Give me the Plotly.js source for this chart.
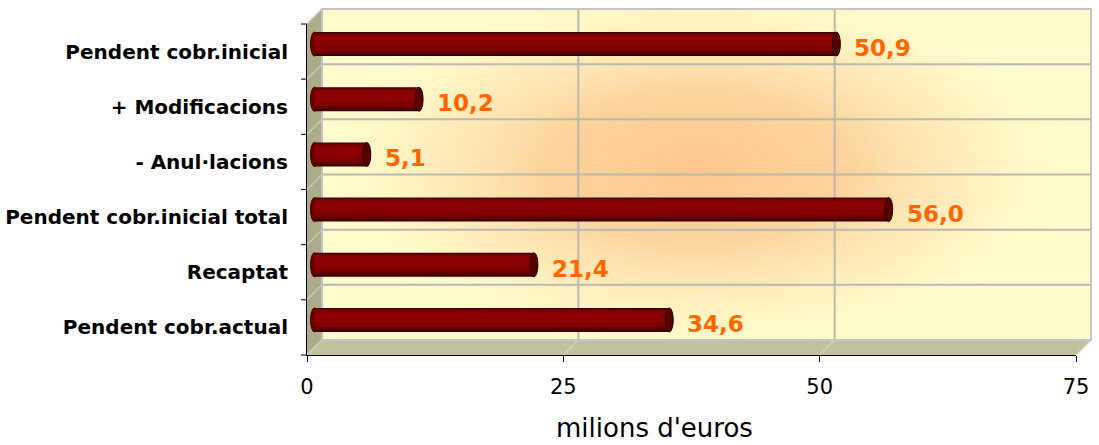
<!DOCTYPE html>
<html>
<head>
<meta charset="utf-8">
<script src="https://cdn.plot.ly/plotly-3.0.1.min.js"></script>
<style>html,body{margin:0;padding:0;background:#fff}#chart{width:1099px;height:445px}</style>
</head>
<body>
<div id="chart"></div>
<script>
// ---- data ----
const categories = ["Pendent cobr.inicial", "+ Modificacions", "- Anul·lacions", "Pendent cobr.inicial total", "Recaptat", "Pendent cobr.actual"];
const values = [50.9, 10.2, 5.1, 56.0, 21.4, 34.6];
const valueLabels = ["50,9", "10,2", "5,1", "56,0", "21,4", "34,6"];
const xTickVals = [0, 25, 50, 75];
const xTickText = ["0", "25", "50", "75"];
const axisTitle = "milions d'euros";

// ---- geometry (front plane in pixels) ----
const W = 1099, H = 445;
const L = 307, R = 1076, T = 24, B = 355, D = 15;
const XMAX = 75;
const n = categories.length;
const ppu = (R - L) / XMAX;
const slot = (B - T) / n;
const px = v => (v - L) / (R - L);
const py = v => (B - v) / (B - T);
const idx = categories.map((_, i) => i);

// ---- back wall gradient image ----
const cw = R - L, ch = B - T;
const cv = document.createElement('canvas');
cv.width = cw; cv.height = ch;
const ctx = cv.getContext('2d');
ctx.fillStyle = '#FFFBCC';
ctx.fillRect(0, 0, cw, ch);
ctx.save();
const cx = 375, cy = 158, rx = 390, ry = 190;
ctx.translate(cx, cy);
ctx.scale(1, ry / rx);
const g = ctx.createRadialGradient(0, 0, 0, 0, 0, rx);
g.addColorStop(0, 'rgba(251,198,138,1)');
g.addColorStop(0.4, 'rgba(252,208,152,0.9)');
g.addColorStop(0.72, 'rgba(254,228,176,0.5)');
g.addColorStop(1, 'rgba(255,251,204,0)');
ctx.fillStyle = g;
ctx.fillRect(-rx, -rx, 2 * rx, 2 * rx);
ctx.restore();
const bgURL = cv.toDataURL('image/png');

// ---- shapes ----
const shapes = [];
const P = (x, y) => px(x) + ',' + py(y);
shapes.push({type: 'path', xref: 'paper', yref: 'paper', layer: 'below',
  path: 'M' + P(L, T) + ' L' + P(L + D, T - D) + ' L' + P(L + D, B - D) + ' L' + P(L, B) + ' Z',
  fillcolor: '#ACAC8A', line: {width: 0}});
shapes.push({type: 'path', xref: 'paper', yref: 'paper', layer: 'below',
  path: 'M' + P(L, B) + ' L' + P(L + D, B - D) + ' L' + P(R + D, B - D) + ' L' + P(R, B) + ' Z',
  fillcolor: '#C2C29E', line: {width: 0}});
for (let k = 1; k < n; k++) {
  const y = T - D + k * slot;
  shapes.push({type: 'line', xref: 'paper', yref: 'paper', layer: 'below',
    x0: px(L + D), x1: px(R + D), y0: py(y), y1: py(y), line: {color: '#B9B9B0', width: 2}});
}
xTickVals.forEach(v => {
  if (v === 0 || v === XMAX) return;
  const x = L + D + v * ppu;
  shapes.push({type: 'line', xref: 'paper', yref: 'paper', layer: 'below',
    x0: px(x), x1: px(x), y0: py(T - D), y1: py(B - D), line: {color: '#B9B9B0', width: 2}});
});
for (let k = 0; k <= n; k++) {
  const y = T + k * slot;
  shapes.push({type: 'line', xref: 'paper', yref: 'paper', layer: 'below',
    x0: px(L), x1: px(L + D), y0: py(y), y1: py(y - D), line: {color: '#C8C8B4', width: 1.5}});
}
xTickVals.forEach(v => {
  const x = L + v * ppu;
  shapes.push({type: 'line', xref: 'paper', yref: 'paper', layer: 'below',
    x0: px(x), x1: px(x + D), y0: py(B), y1: py(B - D), line: {color: '#D0D0BE', width: 1.5}});
});
shapes.push({type: 'rect', xref: 'paper', yref: 'paper', layer: 'below',
  x0: px(L + D), x1: px(R + D), y0: py(B - D), y1: py(T - D), line: {color: '#C4C4C4', width: 2}});
for (let k = 0; k <= n; k++) {
  const y = T + k * slot;
  shapes.push({type: 'line', xref: 'paper', yref: 'paper', layer: 'above',
    x0: px(L - 6), x1: px(L), y0: py(y), y1: py(y), line: {color: '#000', width: 1}});
}

// ---- bars (mid-depth plane, cylinders) ----
const barPx = 24;
const half = barPx / 2 / slot;
const bands = [
  [0, 24, '#3a0000'],
  [1, 22, '#600000'],
  [2, 19, '#7e0000'],
  [4, 14, '#8c0202']
];
const traces = bands.map(([t, b, c]) => ({
  type: 'bar', orientation: 'h', x: values, y: idx, xaxis: 'x2', yaxis: 'y2',
  width: (b - t) / slot, offset: -half + t / slot,
  marker: {color: c, line: {width: 0}}, hoverinfo: 'skip', showlegend: false
}));
traces.unshift({type: 'scatter', mode: 'markers', x: [0], y: [0], xaxis: 'x', yaxis: 'y',
  marker: {opacity: 0}, hoverinfo: 'skip', showlegend: false});

values.forEach((v, i) => {
  shapes.push({type: 'circle', xref: 'x2', yref: 'y2', layer: 'below',
    x0: -4 / ppu, x1: 4 / ppu, y0: i - half, y1: i + half,
    fillcolor: '#6a0000', line: {color: '#3a0000', width: 1}});
  shapes.push({type: 'circle', xref: 'x2', yref: 'y2', layer: 'above',
    x0: v - 4 / ppu, x1: v + 4 / ppu, y0: i - half, y1: i + half,
    fillcolor: '#5a0000', line: {color: '#260000', width: 1}});
});

// ---- annotations ----
const annotations = values.map((v, i) => ({
  xref: 'x2', yref: 'y2', x: v, y: i, text: valueLabels[i], showarrow: false,
  xanchor: 'left', yanchor: 'middle', xshift: 16, yshift: -4,
  font: {family: 'DejaVu Sans', size: 23, weight: 'bold', color: '#FF6600'}
}));
annotations.push({xref: 'paper', yref: 'paper', x: px(654), y: py(428), text: axisTitle,
  showarrow: false, xanchor: 'center', yanchor: 'middle',
  font: {family: 'DejaVu Sans', size: 26, color: '#000'}});

const layout = {
  width: W, height: H,
  margin: {l: L, r: W - R, t: T, b: H - B, pad: 0},
  paper_bgcolor: '#ffffff', plot_bgcolor: 'rgba(0,0,0,0)',
  barmode: 'overlay', showlegend: false,
  xaxis: {range: [0, XMAX], tickmode: 'array', tickvals: xTickVals, ticktext: xTickText, ticks: 'outside', ticklen: 6,
    tickcolor: '#000', showline: true, linecolor: '#000', linewidth: 1, showgrid: false, zeroline: false,
    ticklabelstandoff: 7,
    tickfont: {family: 'DejaVu Sans', size: 21, color: '#000'}, fixedrange: true},
  yaxis: {range: [n - 0.5, -0.5], tickmode: 'array', tickvals: idx, ticktext: categories, ticks: '', showline: true,
    linecolor: '#000', linewidth: 1, showgrid: false, zeroline: false, ticklabelstandoff: 14,
    tickfont: {family: 'DejaVu Sans', size: 20, weight: 'bold', color: '#000'}, fixedrange: true},
  xaxis2: {overlaying: 'x', range: [-(D / 2) / ppu, XMAX - (D / 2) / ppu], visible: false, fixedrange: true},
  yaxis2: {overlaying: 'y', range: [n - 0.5 + (D / 2) / slot, -0.5 + (D / 2) / slot], visible: false, fixedrange: true},
  images: [{source: bgURL, xref: 'paper', yref: 'paper', x: px(L + D), y: py(T - D),
    sizex: 1, sizey: 1, sizing: 'stretch', xanchor: 'left', yanchor: 'top', layer: 'below'}],
  shapes: shapes,
  annotations: annotations
};

Plotly.newPlot('chart', traces, layout, {displayModeBar: false, staticPlot: true});
</script>
</body>
</html>
